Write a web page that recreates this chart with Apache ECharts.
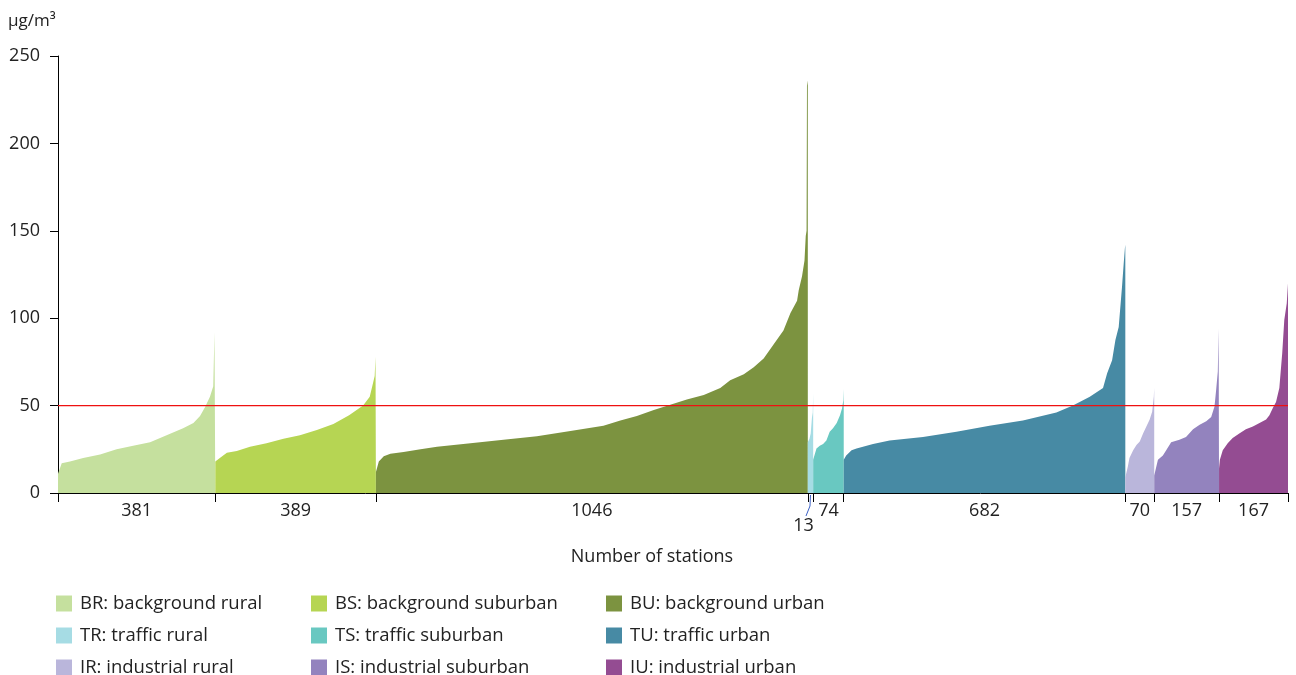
<!DOCTYPE html>
<html>
<head>
<meta charset="utf-8">
<script src="https://cdn.jsdelivr.net/npm/echarts@6/dist/echarts.min.js"></script>
<style>
  html, body { margin: 0; padding: 0; background: #fff; }
  #chart { width: 1296px; height: 675px; }
</style>
</head>
<body>
<div id="chart"></div>
<script>
// station types, in drawing order
const codes = ['BR', 'BS', 'BU', 'TR', 'TS', 'TU', 'IR', 'IS', 'IU'];
const names = [
  'BR: background rural', 'BS: background suburban', 'BU: background urban',
  'TR: traffic rural', 'TS: traffic suburban', 'TU: traffic urban',
  'IR: industrial rural', 'IS: industrial suburban', 'IU: industrial urban'
];
const counts = [381, 389, 1046, 13, 74, 682, 70, 157, 167];
const colors = ['#c5e09e', '#b6d553', '#7c9340', '#a6dce4', '#69c8c1', '#478aa4', '#bab6db', '#9383be', '#944c92'];

// rank of station inside its group (sorted) and the value read at that rank, µg/m3
const brRank = [0, 9, 29, 61, 102, 142, 182, 223, 263, 303, 328, 344, 356, 368, 376, 379, 381];
const brVal  = [11, 17, 18, 20, 22, 25, 27, 29, 33, 37, 40, 44, 49, 55, 61, 92, 92];
const bsRank = [0, 11, 28, 52, 84, 124, 165, 205, 246, 286, 324, 358, 374, 382, 386, 388, 389];
const bsVal  = [18, 20, 23, 24, 26.5, 28.5, 31, 33, 36, 39.5, 44.5, 50, 55, 63, 67, 78, 78];
const buRank = [0, 7, 19, 35, 67, 108, 148, 229, 309, 390, 471, 551, 592, 632, 673, 713, 753, 794, 834, 858, 891, 915, 939, 963, 987, 1004, 1020, 1024, 1032, 1038, 1041, 1043, 1044, 1046];
const buVal  = [12, 18, 21, 22.5, 23.5, 25, 26.5, 28.5, 30.5, 32.5, 35.5, 38.5, 41.5, 44, 47.5, 50.5, 53.5, 56, 60, 64.5, 68, 72, 77, 85, 93, 103, 110, 116, 124, 133, 147, 150, 233, 236];
const trRank = [0, 2, 4, 7, 10, 12, 13];
const trVal  = [29, 29.5, 31, 34, 43, 46, 57];
const tsRank = [0, 4, 8, 16, 24, 32, 40, 48, 57, 65, 70, 73, 74];
const tsVal  = [19, 20, 25.5, 27, 28, 30, 35, 37, 40, 44.5, 48.5, 53, 59.5];
const tuRank = [0, 6, 19, 31, 71, 111, 192, 273, 353, 434, 515, 555, 596, 628, 638, 650, 658, 666, 674, 678, 681, 682];
const tuVal  = [19, 21.5, 24.5, 25.5, 28, 30, 32, 35, 38.5, 41.5, 46, 50, 55, 60, 68.5, 76, 87.5, 95, 118, 131, 140, 142];
const irRank = [0, 2, 6, 10, 19, 27, 35, 43, 51, 59, 65, 69, 70];
const irVal  = [9, 10, 15, 20, 24.5, 27.5, 29.5, 34, 38, 42, 46.5, 55, 60];
const isRank = [0, 2, 9, 21, 29, 41, 61, 77, 94, 110, 126, 138, 146, 150, 154, 156, 157];
const isVal  = [10, 11, 19, 21.5, 24.5, 29, 30.5, 32, 36.5, 39, 41, 43.5, 49.5, 59, 69.5, 94, 94];
const iuRank = [0, 2, 9, 21, 33, 49, 65, 82, 98, 114, 122, 130, 138, 146, 153, 158, 164, 167];
const iuVal  = [14, 19, 24.5, 28.5, 31.5, 34, 36.5, 38, 40, 42, 44.5, 48.5, 52, 60, 80, 99, 108.5, 120];

const ranks = [brRank, bsRank, buRank, trRank, tsRank, tuRank, irRank, isRank, iuRank];
const vals = [brVal, bsVal, buVal, trVal, tsVal, tuVal, irVal, isVal, iuVal];

const limitValue = 50;

// group borders and middles on the station axis
const starts = [];
let acc = 0;
counts.forEach(function (c) { starts.push(acc); acc += c; });
const total = acc;
const borders = starts.concat([total]);
const mids = starts.map(function (s, i) { return s + counts[i] / 2; });

const font = '"Open Sans", "Noto Sans", sans-serif';

const series = codes.map(function (code, i) {
  return {
    name: names[i],
    type: 'line',
    data: ranks[i].map(function (r, k) { return [starts[i] + r, vals[i][k]]; }),
    showSymbol: false,
    symbol: 'none',
    lineStyle: { width: 0 },
    areaStyle: { color: colors[i], opacity: 1 },
    itemStyle: { color: colors[i] },
    silent: true
  };
});

// limit value line across the whole axis
series.push({
  name: 'limit',
  type: 'line',
  data: [[0, limitValue], [total, limitValue]],
  showSymbol: false,
  symbol: 'none',
  lineStyle: { color: '#ee1111', width: 1.4 },
  itemStyle: { color: '#ee1111' },
  silent: true,
  z: 5
});

function legendCol(idx, left) {
  return {
    orient: 'vertical',
    left: left,
    top: 594,
    height: 100,
    padding: 0,
    itemWidth: 16,
    itemHeight: 16,
    itemGap: 13,
    icon: 'rect',
    selectedMode: false,
    textStyle: { fontFamily: font, fontSize: 18.5, color: '#222', padding: [0, 0, 0, 3] },
    data: idx.map(function (k) { return names[k]; })
  };
}

const chart = echarts.init(document.getElementById('chart'));
chart.setOption({
  animation: false,
  title: {
    text: 'µg/m³',
    left: 8,
    top: 13,
    padding: 0,
    textStyle: { fontFamily: font, fontSize: 17, fontWeight: 'normal', color: '#222' }
  },
  legend: [legendCol([0, 3, 6], 56), legendCol([1, 4, 7], 311), legendCol([2, 5, 8], 606)],
  grid: { left: 58, right: 8, top: 56, bottom: 182, containLabel: false },
  xAxis: {
    type: 'value',
    min: 0,
    max: total,
    name: 'Number of stations',
    nameLocation: 'middle',
    nameGap: 55,
    nameTextStyle: { fontFamily: font, fontSize: 18, color: '#222', padding: [0, 42, 0, 0] },
    splitLine: { show: false },
    axisLine: { show: true, lineStyle: { color: '#000', width: 1 } },
    axisTick: { show: true, length: 9, lineStyle: { color: '#000' }, customValues: borders },
    axisLabel: {
      fontFamily: font, fontSize: 18, color: '#222', margin: 9,
      customValues: mids.filter(function (m, i) { return codes[i] !== 'TR'; }),
      formatter: function (v) {
        for (let i = 0; i < mids.length; i++) {
          if (Math.abs(mids[i] - v) < 0.01) return String(counts[i]);
        }
        return '';
      }
    }
  },
  yAxis: {
    type: 'value',
    min: 0,
    max: 250,
    interval: 50,
    splitLine: { show: false },
    axisLine: { show: true, lineStyle: { color: '#000', width: 1 } },
    axisTick: { show: true, length: 8, lineStyle: { color: '#000' } },
    axisLabel: { fontFamily: font, fontSize: 18, color: '#222', margin: 18 }
  },
  series: series
});

// the 13-station group is too narrow for its label: put it below with a leader line
const trIdx = codes.indexOf('TR');
const p = chart.convertToPixel({ xAxisIndex: 0, yAxisIndex: 0 }, [mids[trIdx], 0]);
chart.setOption({
  graphic: [
    {
      type: 'polyline',
      silent: true,
      shape: { points: [[p[0], p[1] + 2], [p[0] - 0.5, p[1] + 13], [p[0] - 4.5, p[1] + 23]] },
      style: { stroke: '#3a5fc4', lineWidth: 1, fill: null }
    },
    {
      type: 'text',
      silent: true,
      x: p[0] - 7,
      y: p[1] + 33,
      style: {
        text: String(counts[trIdx]),
        fontFamily: font, fontSize: 18, fill: '#222',
        align: 'center', verticalAlign: 'middle'
      }
    }
  ]
});
</script>
</body>
</html>
